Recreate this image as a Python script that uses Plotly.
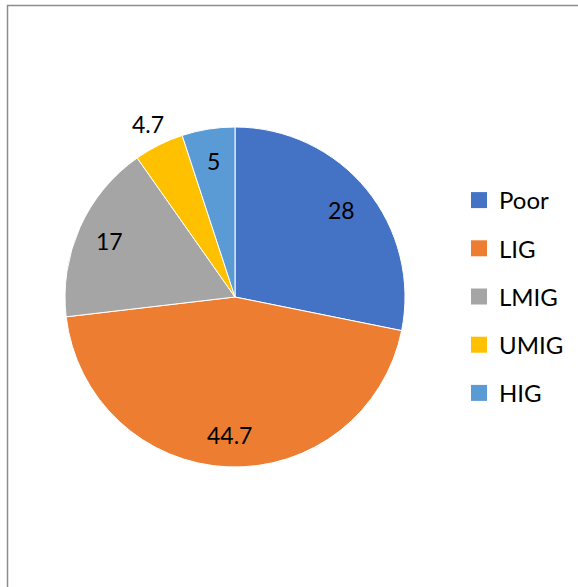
import numpy as np
import plotly.graph_objects as go

# Share of households by income group
categories = ["Poor", "LIG", "LMIG", "UMIG", "HIG"]
values = [28, 44.7, 17, 4.7, 5]
colors = ["#4472C4", "#ED7D31", "#A5A5A5", "#FFC000", "#5B9BD5"]
label_outside = [False, False, False, True, False]

W, H = 578, 587
FONT = "Lato"

# pie geometry in pixels
CX, CY, R = 235, 297, 170

fig = go.Figure()

fig.add_trace(go.Pie(
    labels=categories,
    values=values,
    sort=False,
    direction="clockwise",
    rotation=0,
    marker=dict(colors=colors, line=dict(color="white", width=1)),
    textinfo="none",
    showlegend=False,
    hoverinfo="label+value",
    domain=dict(x=[(CX - R) / W, (CX + R) / W], y=[1 - (CY + R) / H, 1 - (CY - R) / H]),
))

# Data labels placed along each slice's bisector (clockwise from 12 o'clock)
vals = np.array(values, dtype=float)
mid_frac = (np.cumsum(vals) - vals / 2) / vals.sum()
angles = 2 * np.pi * mid_frac
annotations = []
for v, a, out in zip(values, angles, label_outside):
    r = R * (1.14 if out else 0.81)
    px = CX + r * np.sin(a)
    py = CY - r * np.cos(a)
    annotations.append(dict(
        x=px / W, y=1 - py / H, xref="paper", yref="paper",
        text=f"{v:g}", showarrow=False, xanchor="center", yanchor="middle",
        font=dict(family=FONT, size=23, color="#000000"),
    ))

# Legend entries with square swatches
for name, col in zip(categories, colors):
    fig.add_trace(go.Scatter(
        x=[None], y=[None], mode="markers", name=name, legendgroup=name,
        marker=dict(symbol="square", size=16, color=col),
    ))

fig.update_layout(
    width=W, height=H,
    margin=dict(l=0, r=0, t=0, b=0),
    paper_bgcolor="white",
    plot_bgcolor="white",
    xaxis=dict(visible=False),
    yaxis=dict(visible=False),
    annotations=annotations,
    legend=dict(
        x=459 / W, y=1 - 178 / H, xanchor="left", yanchor="top",
        font=dict(family=FONT, size=24, color="#000000"),
        tracegroupgap=14,
        itemwidth=30,
        bgcolor="rgba(0,0,0,0)",
    ),
    shapes=[dict(
        type="rect", xref="paper", yref="paper",
        x0=7.5 / W, x1=1.05, y0=-0.05, y1=1 - 5.5 / H,
        line=dict(color="#8c8c8c", width=1.5),
    )],
)

fig.write_html("out.html")
